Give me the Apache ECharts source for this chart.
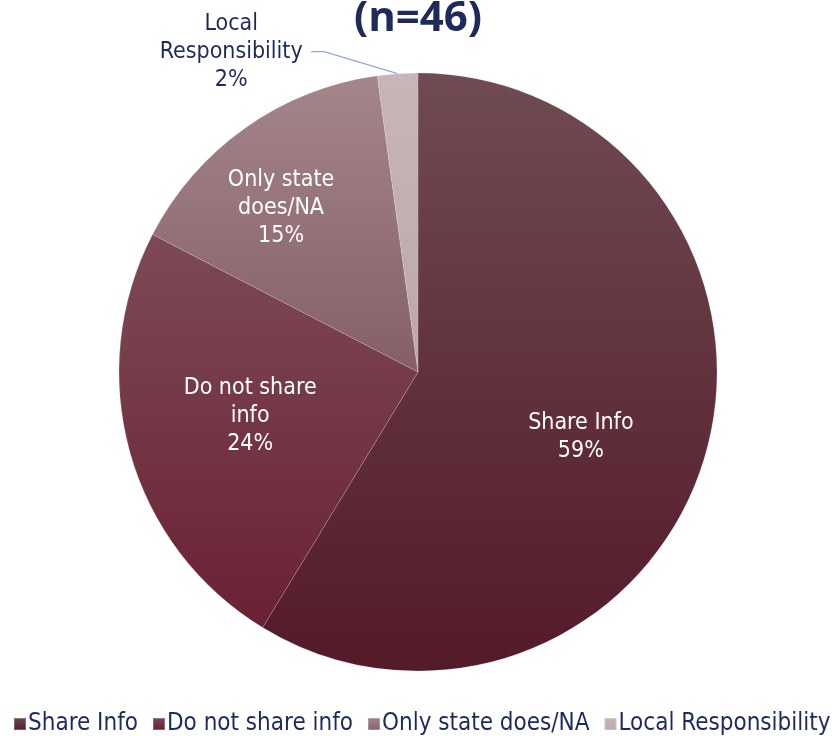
<!DOCTYPE html>
<html>
<head>
<meta charset="utf-8">
<script src="https://cdn.jsdelivr.net/npm/echarts@6/dist/echarts.min.js"></script>
<style>
  html, body { margin: 0; padding: 0; background: #fff; }
  #chart { width: 836px; height: 736px; }
</style>
</head>
<body>
<div id="chart"></div>
<script>
// data (n=46)
const categories = ['Share Info', 'Do not share info', 'Only state does/NA', 'Local Responsibility'];
const labelNames = ['Share Info', 'Do not share\ninfo', 'Only state\ndoes/NA', 'Local\nResponsibility'];
const counts = [27, 11, 7, 1];
const titleText = '(n=46)';

// top -> bottom gradient per slice
const sliceColors = [
  ['#704b52', '#531a27'],
  ['#7c4a55', '#6a2133'],
  ['#a4868a', '#855f67'],
  ['#c7b5b7', '#bca8aa']
];
// nudges so labels sit where the original put them
const labelShift = [[16, 24], [-21, 3], [-49, -39], [0, 0]];

const navy = '#1f2a5c';
const font = '"DejaVu Sans Condensed", "DejaVu Sans", sans-serif';

function grad(c) {
  return new echarts.graphic.LinearGradient(0, 0, 0, 1, [
    { offset: 0, color: c[0] },
    { offset: 1, color: c[1] }
  ]);
}

const total = counts.reduce((a, b) => a + b, 0);

const seriesData = categories.map((name, i) => {
  const d = {
    name: name,
    value: counts[i],
    itemStyle: { color: grad(sliceColors[i]) }
  };
  if (i < 3) {
    d.label = { position: 'inside', offset: labelShift[i] };
  } else {
    d.label = {
      position: 'outside',
      color: navy,
      formatter: (p) => '{a|Local}\n{a|Responsibility}\n{a|' + Math.round(p.value / total * 100) + '%}',
      rich: { a: { width: 160, align: 'center', fontSize: 23, lineHeight: 28, color: navy, fontFamily: font } }
    };
    d.labelLine = { show: true, length: 6, length2: 13, lineStyle: { color: '#8fa8e0', width: 1.2 } };
  }
  return d;
});

const chart = echarts.init(document.getElementById('chart'));
chart.setOption({
  backgroundColor: '#fff',
  animation: false,
  textStyle: { fontFamily: font },
  title: {
    text: titleText,
    left: 'center',
    top: -7,
    textStyle: { color: navy, fontSize: 42, fontWeight: 'bold', fontFamily: '"Open Sans", sans-serif' }
  },
  legend: {
    bottom: -5,
    left: 8,
    width: 900,
    icon: 'rect',
    itemWidth: 12,
    itemHeight: 12,
    itemGap: 14,
    textStyle: { color: navy, fontSize: 24, padding: [0, 0, 0, -3] },
    data: categories
  },
  series: [{
    type: 'pie',
    center: ['50%', 372],
    radius: 299,
    startAngle: 90,
    clockwise: true,
    avoidLabelOverlap: false,
    itemStyle: { borderColor: 'rgba(255,255,255,0.25)', borderWidth: 0.6 },
    label: {
      show: true,
      color: '#fff',
      fontSize: 23,
      lineHeight: 28,
      formatter: (p) => labelNames[p.dataIndex] + '\n' + Math.round(p.value / total * 100) + '%'
    },
    labelLine: { show: false },
    // move the small outside label up-left, like the original; the guide line follows
    labelLayout: (p) => {
      if (p.dataIndex !== 3) return {};
      const r = p.labelRect;
      return { x: r.x + r.width - 68, y: r.y + r.height / 2 - 16, align: 'right', verticalAlign: 'middle' };
    },
    emphasis: { disabled: true },
    data: seriesData
  }]
});
</script>
</body>
</html>
